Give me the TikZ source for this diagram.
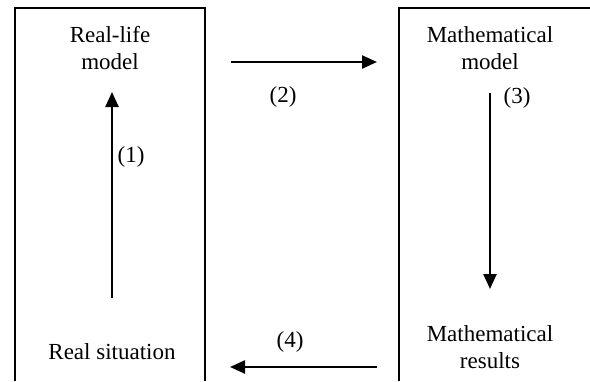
\documentclass[tikz,border=0pt]{standalone}
\usepackage{fontspec}
\setmainfont{Liberation Serif}
\usetikzlibrary{arrows.meta}

\tikzset{
  frame/.style={line width=1.9pt},
  arr/.style={line width=2.4pt,-{Triangle[length=15pt,width=13pt]}},
  lbl/.style={align=center,inner sep=0pt}
}

\begin{document}
\begin{tikzpicture}[x=1pt,y=-1pt,font=\fontsize{23}{27}\selectfont]

\useasboundingbox (0,0) rectangle (590,381);

% Boxes
\draw[frame]
(15,381) -- (15,8) -- (205,8) -- (205,381);

\draw[frame]
(399,381) -- (399,8) -- (592,8);

% Texts
\node[lbl]
(RL)
at (110,48)
{Real-life\\model};

\node[lbl]
(MM)
at (490,48)
{Mathematical\\model};

\node[lbl]
(RS)
at (112,352)
{Real situation};

\node[lbl]
(MR)
at (490,347)
{Mathematical\\results};

% (1)
\coordinate (A1) at (112,298);
\coordinate (B1) at (112,92);
\draw[arr] (A1) -- (B1);

\node[lbl]
(L1)
at (131,157)
{(1)};

% (2)
\coordinate (A2) at (231,62);
\coordinate (B2) at (377,62);
\draw[arr] (A2) -- (B2);

\node[lbl]
(L2)
at (283,97)
{(2)};

% (3)
\coordinate (A3) at (490,93);
\coordinate (B3) at (490,289);
\draw[arr] (A3) -- (B3);

\node[lbl]
(L3)
at (517,98)
{(3)};

% (4)
\coordinate (A4) at (377,367);
\coordinate (B4) at (230,367);
\draw[arr] (A4) -- (B4);

\node[lbl]
(L4)
at (290,342)
{(4)};

\end{tikzpicture}
\end{document}
